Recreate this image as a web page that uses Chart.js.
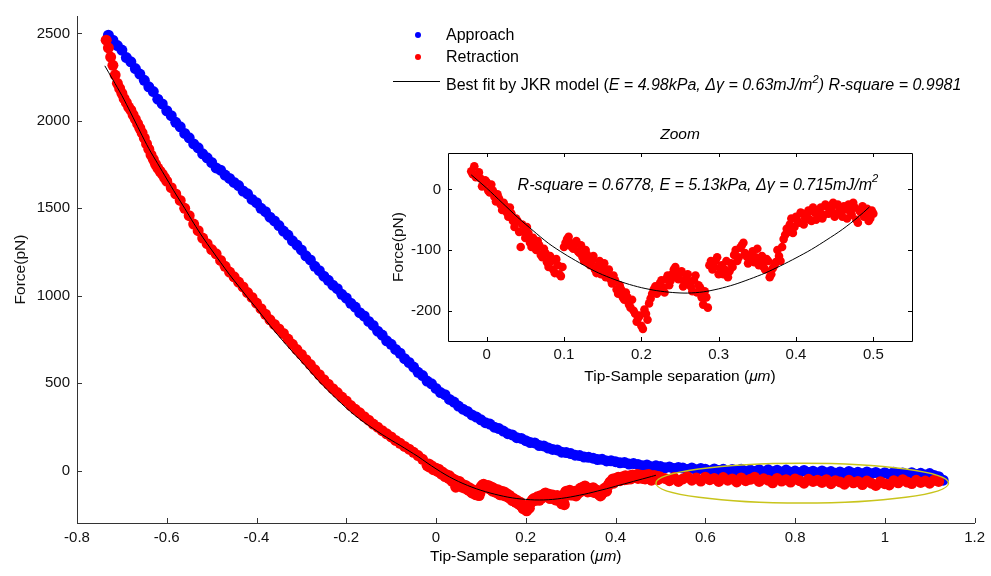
<!DOCTYPE html>
<html>
<head>
<meta charset="utf-8">
<script src="https://cdn.jsdelivr.net/npm/chart.js@4/dist/chart.umd.min.js"></script>
<style>
  html, body { margin: 0; padding: 0; background: #fff; }
  #wrap { position: relative; width: 991px; height: 576px; }
  #main { position: absolute; left: 0; top: 0; }
  #zoom { position: absolute; left: 380px; top: 118px; }
</style>
</head>
<body>
<div id="wrap">
  <canvas id="main" width="991" height="576"></canvas>
  <canvas id="zoom" width="545" height="275"></canvas>
</div>
<script>
const FONT = '"Liberation Sans", Arial, sans-serif';
const AXIS = "#333";

const mainXTicks = [-0.8, -0.6, -0.4, -0.2, 0, 0.2, 0.4, 0.6, 0.8, 1, 1.2];
const mainYTicks = [0, 500, 1000, 1500, 2000, 2500];
const zoomXTicks = [0, 0.1, 0.2, 0.3, 0.4, 0.5];
const zoomYTicks = [-200, -100, 0];

// approach curve (blue)
const approachX = [
  -0.73,-0.72,-0.71,-0.70,-0.69,-0.68,-0.67,-0.66,-0.65,-0.64,
  -0.63,-0.62,-0.61,-0.60,-0.59,-0.58,-0.57,-0.56,-0.55,-0.54,
  -0.53,-0.52,-0.51,-0.50,-0.49,-0.48,-0.47,-0.46,-0.45,-0.44,
  -0.43,-0.42,-0.41,-0.40,-0.39,-0.38,-0.37,-0.36,-0.35,-0.34,
  -0.33,-0.32,-0.31,-0.30,-0.29,-0.28,-0.27,-0.26,-0.25,-0.24,
  -0.23,-0.22,-0.21,-0.20,-0.19,-0.18,-0.17,-0.16,-0.15,-0.14,
  -0.13,-0.12,-0.11,-0.10,-0.09,-0.08,-0.07,-0.06,-0.05,-0.04,
  -0.03,-0.02,-0.01,0.00,0.01,0.02,0.03,0.04,0.05,0.06,
  0.07,0.08,0.09,0.10,0.11,0.12,0.13,0.14,0.15,0.16,
  0.17,0.18,0.19,0.20,0.21,0.22,0.23,0.24,0.25,0.26,
  0.27,0.28,0.29,0.30,0.31,0.32,0.33,0.34,0.35,0.36,
  0.37,0.38,0.39,0.40,0.41,0.42,0.43,0.44,0.45,0.46,
  0.47,0.48,0.49,0.50,0.51,0.52,0.53,0.54,0.55,0.56,
  0.57,0.58,0.59,0.60,0.61,0.62,0.63,0.64,0.65,0.66,
  0.67,0.68,0.69,0.70,0.71,0.72,0.73,0.74,0.75,0.76,
  0.77,0.78,0.79,0.80,0.81,0.82,0.83,0.84,0.85,0.86,
  0.87,0.88,0.89,0.90,0.91,0.92,0.93,0.94,0.95,0.96,
  0.97,0.98,0.99,1.00,1.01,1.02,1.03,1.04,1.05,1.06,
  1.07,1.08,1.09,1.10,1.11,1.12,1.13
];
const approachY = [
  2490,2462,2431,2405,2362,2338,2299,2268,2232,2195,
  2168,2124,2097,2058,2030,1992,1966,1928,1903,1868,
  1846,1812,1789,1762,1731,1718,1690,1671,1648,1630,
  1599,1583,1551,1532,1500,1481,1449,1428,1401,1370,
  1347,1314,1290,1262,1228,1205,1168,1143,1112,1088,
  1060,1040,1008,987,957,935,903,884,853,830,
  797,775,742,722,693,671,640,618,592,562,
  543,512,496,470,446,434,407,392,369,351,
  338,318,306,290,274,266,248,240,226,211,
  204,188,184,171,160,158,143,141,129,121,
  118,105,103,97,88,86,77,76,71,63,
  64,55,56,51,44,46,37,40,35,28,
  32,22,27,23,16,21,12,18,14,6,
  15,4,12,8,-2,9,0,7,-4,6,
  -3,8,-5,3,-6,5,-8,4,-7,2,
  -10,3,-9,-3,-12,1,-11,-4,-14,-2,
  -13,-6,-15,-8,-17,-5,-16,-10,-19,-8,
  -18,-11,-21,-12,-22,-10,-20,-14,-24,-12,
  -22,-16,-25,-17,-28,-35,-55
];

// retraction curve (red), also used for the zoom panel
const retractionX = [
  -0.735,-0.730,-0.725,-0.720,-0.715,-0.710,-0.705,-0.700,-0.695,-0.690,
  -0.685,-0.680,-0.675,-0.670,-0.665,-0.660,-0.655,-0.650,-0.645,-0.640,
  -0.635,-0.630,-0.625,-0.620,-0.615,-0.610,-0.605,-0.600,
  -0.59,-0.58,-0.57,-0.56,-0.55,-0.54,-0.53,-0.52,-0.51,-0.50,
  -0.49,-0.48,-0.47,-0.46,-0.45,-0.44,-0.43,-0.42,-0.41,-0.40,
  -0.39,-0.38,-0.37,-0.36,-0.35,-0.34,-0.33,-0.32,-0.31,-0.30,
  -0.29,-0.28,-0.27,-0.26,-0.25,-0.24,-0.23,-0.22,-0.21,-0.20,
  -0.19,-0.18,-0.17,-0.16,-0.15,-0.14,-0.13,-0.12,-0.11,-0.10,
  -0.09,-0.08,-0.07,-0.06,-0.05,-0.04,-0.03,
  -0.020,-0.016,-0.012,-0.008,-0.004,0.000,0.004,0.008,0.012,0.016,
  0.020,0.024,0.028,0.032,0.036,0.040,0.044,0.048,0.052,0.056,
  0.060,0.064,0.068,0.072,0.076,0.080,0.084,0.088,0.092,0.096,
  0.100,0.104,0.108,0.112,0.116,0.120,0.124,0.128,0.132,0.136,
  0.140,0.144,0.148,0.152,0.156,0.160,0.164,0.168,0.172,0.176,
  0.180,0.184,0.188,0.192,0.196,0.200,0.204,0.208,0.212,0.216,
  0.220,0.224,0.228,0.232,0.236,0.240,0.244,0.248,0.252,0.256,
  0.260,0.264,0.268,0.272,0.276,0.280,0.284,0.288,0.292,0.296,
  0.300,0.304,0.308,0.312,0.316,0.320,0.324,0.328,0.332,0.336,
  0.340,0.344,0.348,0.352,0.356,0.360,0.364,0.368,0.372,0.376,
  0.380,0.384,0.388,0.392,0.396,0.400,0.404,0.408,0.412,0.416,
  0.420,0.424,0.428,0.432,0.436,0.440,0.444,0.448,0.452,0.456,
  0.460,0.464,0.468,0.472,0.476,0.480,0.484,0.488,0.492,0.496,
  0.500,
  0.51,0.52,0.53,0.54,0.55,0.56,0.57,0.58,0.59,0.60,
  0.61,0.62,0.63,0.64,0.65,0.66,0.67,0.68,0.69,0.70,
  0.71,0.72,0.73,0.74,0.75,0.76,0.77,0.78,0.79,0.80,
  0.81,0.82,0.83,0.84,0.85,0.86,0.87,0.88,0.89,0.90,
  0.91,0.92,0.93,0.94,0.95,0.96,0.97,0.98,0.99,1.00,
  1.01,1.02,1.03,1.04,1.05,1.06,1.07,1.08,1.09,1.10,
  1.11,1.12
];
const retractionY = [
  2462,2418,2365,2318,2262,2215,2186,2158,2128,2104,
  2079,2061,2035,2010,1985,1958,1932,1902,1868,1838,
  1806,1780,1752,1730,1712,1695,1676,1655,
  1618,1582,1545,1500,1458,1410,1372,1330,1298,1264,
  1240,1202,1168,1135,1108,1078,1050,1018,990,958,
  926,894,862,836,810,784,752,722,692,664,
  634,606,576,548,520,494,468,446,420,398,
  372,350,330,308,288,266,248,228,210,192,
  172,156,138,122,104,86,64,
  30,38,22,18,8,12,-5,-2,-20,-15,
  -34,-28,-45,-40,-62,-52,-95,-70,-62,-88,
  -80,-100,-92,-112,-105,-128,-118,-138,-125,-143,
  -95,-82,-88,-98,-85,-105,-112,-100,-122,-118,
  -132,-126,-140,-122,-138,-148,-142,-165,-158,-178,
  -170,-190,-182,-205,-212,-225,-198,-215,-180,-165,
  -172,-155,-162,-148,-158,-140,-128,-148,-135,-152,
  -140,-160,-150,-170,-162,-190,-178,-125,-132,-118,
  -140,-125,-132,-145,-122,-108,-118,-96,-88,-110,
  -118,-102,-112,-125,-110,-132,-118,-140,-125,-100,
  -118,-82,-65,-58,-72,-45,-55,-40,-48,-35,
  -52,-38,-45,-30,-42,-28,-36,-22,-40,-30,
  -45,-33,-25,-42,-30,-55,-38,-45,-32,-48,
  -40,
  -45,-58,-40,-62,-48,-35,-55,-42,-60,-38,
  -52,-45,-62,-40,-55,-48,-65,-42,-58,-50,
  -38,-62,-47,-55,-70,-45,-60,-52,-66,-48,
  -58,-72,-50,-62,-55,-68,-52,-75,-58,-65,
  -78,-56,-70,-62,-80,-60,-72,-85,-64,-75,
  -82,-58,-70,-52,-66,-74,-56,-68,-60,-72,
  -55,-62
];

// second pass of retraction samples in the contact/adhesion region
const retraction2X = [
  -0.018,-0.014,-0.010,-0.006,-0.002,0.002,0.006,0.010,0.014,0.018,
  0.022,0.026,0.030,0.034,0.038,0.042,0.046,0.050,0.054,0.058,
  0.062,0.066,0.070,0.074,0.078,0.082,0.086,0.090,0.094,0.098,
  0.102,0.106,0.110,0.114,0.118,0.122,0.126,0.130,0.134,0.138,
  0.142,0.146,0.150,0.154,0.158,0.162,0.166,0.170,0.174,0.178,
  0.182,0.186,0.190,0.194,0.198,0.202,0.206,0.210,0.214,0.218,
  0.222,0.226,0.230,0.234,0.238,0.242,0.246,0.250,0.254,0.258,
  0.262,0.266,0.270,0.274,0.278,0.282,0.286,0.290,0.294,0.298,
  0.302,0.306,0.310,0.314,0.318,0.322,0.326,0.330,0.334,0.338,
  0.342,0.346,0.350,0.354,0.358,0.362,0.366,0.370,0.374,0.378,
  0.382,0.386,0.390,0.394,0.398,0.402,0.406,0.410,0.414,0.418,
  0.422,0.426,0.430,0.434,0.438,0.442,0.446,0.450,0.454,0.458,
  0.462,0.466,0.470,0.474,0.478,0.482,0.486,0.490,0.494,0.498
];
const retraction2Y = [
  25,20,28,5,15,-2,8,-12,-8,-25,
  -22,-38,-30,-52,-48,-70,-58,-80,-72,-95,
  -90,-85,-108,-98,-120,-110,-132,-115,-140,-128,
  -88,-78,-95,-90,-102,-92,-118,-108,-125,-110,
  -138,-118,-130,-145,-132,-155,-150,-172,-165,-182,
  -178,-195,-200,-218,-208,-230,-205,-188,-172,-160,
  -165,-150,-170,-142,-150,-132,-145,-138,-160,-145,
  -152,-168,-142,-158,-178,-168,-195,-118,-128,-112,
  -130,-140,-118,-135,-128,-100,-112,-92,-105,-122,
  -108,-120,-98,-118,-128,-115,-145,-130,-120,-110,
  -95,-75,-70,-48,-62,-52,-38,-58,-42,-50,
  -30,-50,-35,-48,-25,-40,-30,-45,-25,-38,
  -28,-48,-36,-22,-50,-35,-28,-42,-52,-35
];

// JKR fit, main panel
const fitX = [
  -0.738,-0.72,-0.70,-0.68,-0.66,-0.64,-0.62,-0.60,-0.58,-0.56,
  -0.54,-0.52,-0.50,-0.48,-0.46,-0.44,-0.42,-0.40,-0.38,-0.36,
  -0.34,-0.32,-0.30,-0.28,-0.26,-0.24,-0.22,-0.20,-0.18,-0.16,
  -0.14,-0.12,-0.10,-0.08,-0.06,-0.04,-0.02,0.00,0.02,0.04,
  0.06,0.08,0.10,0.12,0.14,0.16,0.18,0.20,0.22,0.24,
  0.26,0.28,0.30,0.32,0.34,0.36,0.38,0.40,0.42,0.44,
  0.46,0.48,0.49
];
const fitY = [
  2315,2235,2145,2045,1942,1842,1755,1668,1582,1500,
  1415,1335,1262,1190,1120,1055,990,928,862,798,
  738,680,624,566,508,456,406,358,314,275,
  240,206,174,144,112,80,44,10,-22,-50,
  -74,-95,-113,-128,-141,-152,-160,-165,-168,-168,
  -165,-159,-151,-141,-130,-117,-104,-90,-76,-62,
  -48,-34,-27
];

// JKR fit, zoom panel
const zoomFitX = [
  -0.02,0.00,0.02,0.04,0.06,0.08,0.10,0.12,0.14,0.16,
  0.18,0.20,0.22,0.24,0.26,0.28,0.30,0.32,0.34,0.36,
  0.38,0.40,0.42,0.44,0.46,0.48,0.495
];
const zoomFitY = [
  24,2,-22,-46,-68,-89,-106,-121,-135,-146,
  -155,-162,-167,-170,-171,-169,-164,-157,-148,-138,
  -126,-113,-99,-83,-66,-46,-29
];

const pairs = (xs, ys) => xs.map((x, i) => ({ x, y: ys[i] }));

function drawRuns(ctx, runs, x, y, size) {
  let cx = x;
  runs.forEach((r) => {
    const s = r.sup ? size * 0.7 : size;
    ctx.font = `${r.italic ? "italic " : ""}${s}px ${FONT}`;
    ctx.fillText(r.text, cx, r.sup ? y - size * 0.38 : y);
    cx += ctx.measureText(r.text).width;
  });
  return cx;
}

function runsWidth(ctx, runs, size) {
  let w = 0;
  runs.forEach((r) => {
    const s = r.sup ? size * 0.7 : size;
    ctx.font = `${r.italic ? "italic " : ""}${s}px ${FONT}`;
    w += ctx.measureText(r.text).width;
  });
  return w;
}

const xLabelRuns = [
  { text: "Tip-Sample separation (" },
  { text: "\u03bcm", italic: true },
  { text: ")" },
];

const inwardTicks = (len, box, color) => ({
  id: "inwardTicks",
  afterDraw(chart) {
    const { ctx, chartArea: a, scales: { x, y } } = chart;
    ctx.save();
    ctx.strokeStyle = color;
    ctx.lineWidth = 1;
    ctx.beginPath();
    x.ticks.forEach((t) => {
      const p = Math.round(x.getPixelForValue(t.value)) + 0.5;
      ctx.moveTo(p, a.bottom);
      ctx.lineTo(p, a.bottom - len);
      if (box) {
        ctx.moveTo(p, a.top);
        ctx.lineTo(p, a.top + len);
      }
    });
    y.ticks.forEach((t) => {
      const p = Math.round(y.getPixelForValue(t.value)) + 0.5;
      ctx.moveTo(a.left, p);
      ctx.lineTo(a.left + len, p);
      if (box) {
        ctx.moveTo(a.right, p);
        ctx.lineTo(a.right - len, p);
      }
    });
    if (box) {
      ctx.rect(Math.round(a.left) + 0.5, Math.round(a.top) + 0.5,
        Math.round(a.right - a.left), Math.round(a.bottom - a.top));
    }
    ctx.stroke();
    ctx.restore();
  },
});

const mainDecor = {
  id: "mainDecor",
  afterDatasetsDraw(chart) {
    const { ctx, chartArea: a, scales: { x, y } } = chart;
    ctx.save();
    // highlighted region
    const cx = x.getPixelForValue(0.816);
    const cy = y.getPixelForValue(-72);
    const rx = x.getPixelForValue(0.816 + 0.326) - cx;
    const ry = cy - y.getPixelForValue(-72 + 114);
    ctx.strokeStyle = "#c8c41c";
    ctx.lineWidth = 1.4;
    ctx.beginPath();
    ctx.ellipse(cx, cy, rx, ry, 0, 0, Math.PI * 2);
    ctx.stroke();

    // legend
    ctx.textBaseline = "middle";
    ctx.textAlign = "left";
    ctx.beginPath();
    ctx.fillStyle = "#0000ff";
    ctx.arc(418, 35, 3, 0, Math.PI * 2);
    ctx.fill();
    ctx.beginPath();
    ctx.fillStyle = "#ff0000";
    ctx.arc(418, 57, 3, 0, Math.PI * 2);
    ctx.fill();
    ctx.strokeStyle = "#000";
    ctx.lineWidth = 1;
    ctx.beginPath();
    ctx.moveTo(393, 81.5);
    ctx.lineTo(440, 81.5);
    ctx.stroke();
    ctx.fillStyle = "#000";
    drawRuns(ctx, [{ text: "Approach" }], 446, 36, 16);
    drawRuns(ctx, [{ text: "Retraction" }], 446, 58, 16);
    drawRuns(ctx, [
      { text: "Best fit by JKR model (" },
      { text: "E = 4.98kPa, \u0394\u03b3 = 0.63mJ/m", italic: true },
      { text: "2", italic: true, sup: true },
      { text: ") R-square = 0.9981", italic: true },
    ], 446, 86, 16);

    // x axis title
    const w = runsWidth(ctx, xLabelRuns, 15.5);
    drawRuns(ctx, xLabelRuns, (a.left + a.right) / 2 - w / 2, a.bottom + 34, 15.5);
    ctx.restore();
  },
};

const zoomDecor = {
  id: "zoomDecor",
  beforeDraw(chart) {
    const { ctx, chartArea: a } = chart;
    ctx.save();
    ctx.fillStyle = "#fff";
    ctx.fillRect(a.left, a.top, a.right - a.left, a.bottom - a.top);
    ctx.restore();
  },
  afterDatasetsDraw(chart) {
    const { ctx, chartArea: a, scales: { x, y } } = chart;
    ctx.save();
    ctx.fillStyle = "#000";
    ctx.textBaseline = "middle";
    ctx.textAlign = "left";
    const mid = (a.left + a.right) / 2;
    ctx.font = `italic 15.5px ${FONT}`;
    const tw = ctx.measureText("Zoom").width;
    ctx.fillText("Zoom", mid - tw / 2, a.top - 18);
    drawRuns(ctx, [
      { text: "R-square = 0.6778, E = 5.13kPa, \u0394\u03b3 = 0.715mJ/m", italic: true },
      { text: "2", italic: true, sup: true },
    ], x.getPixelForValue(0.04), y.getPixelForValue(7), 16);
    const w = runsWidth(ctx, xLabelRuns, 15.5);
    drawRuns(ctx, xLabelRuns, mid - w / 2, a.bottom + 36, 15.5);
    ctx.restore();
  },
};

const tickFont = { family: FONT, size: 15 };

const retractionAll = pairs(retractionX, retractionY).concat(pairs(retraction2X, retraction2Y));

new Chart(document.getElementById("main"), {
  type: "scatter",
  data: {
    datasets: [
      {
        label: "Approach",
        data: pairs(approachX, approachY),
        backgroundColor: "#0000ff",
        pointRadius: 5.5,
        pointBorderWidth: 0,
        order: 2,
      },
      {
        label: "Retraction",
        data: retractionAll,
        backgroundColor: "#ff0000",
        pointRadius: 5.5,
        pointBorderWidth: 0,
        order: 1,
      },
      {
        label: "Best fit by JKR model",
        data: pairs(fitX, fitY),
        showLine: true,
        borderColor: "#000",
        borderWidth: 1,
        pointRadius: 0,
        tension: 0.3,
        order: 0,
      },
    ],
  },
  options: {
    responsive: false,
    animation: false,
    layout: { padding: { top: 10, right: 12, left: 0, bottom: 0 } },
    plugins: { legend: { display: false }, tooltip: { enabled: false } },
    scales: {
      x: {
        type: "linear",
        min: -0.8,
        max: 1.2,
        afterBuildTicks: (s) => { s.ticks = mainXTicks.map((v) => ({ value: v })); },
        afterFit: (s) => { s.height = 53; },
        grid: { display: false, drawTicks: false },
        border: { display: true, color: AXIS, width: 1 },
        ticks: { padding: 6, color: "#111", font: tickFont, maxRotation: 0, callback: (v) => String(v) },
      },
      y: {
        type: "linear",
        min: -300,
        max: 2600,
        afterBuildTicks: (s) => { s.ticks = mainYTicks.map((v) => ({ value: v })); },
        afterFit: (s) => { s.width = 77; },
        grid: { display: false, drawTicks: false },
        border: { display: true, color: AXIS, width: 1 },
        ticks: { padding: 7, color: "#111", font: tickFont, callback: (v) => String(v) },
        title: {
          display: true,
          text: "Force(pN)",
          color: "#111",
          font: { family: FONT, size: 15.5 },
          padding: { top: 11, bottom: 0 },
        },
      },
    },
  },
  plugins: [inwardTicks(5, false, AXIS), mainDecor],
});

const zoomData = retractionAll.filter((p) => p.x >= -0.021 && p.x <= 0.5);

new Chart(document.getElementById("zoom"), {
  type: "scatter",
  data: {
    datasets: [
      {
        label: "Retraction",
        data: zoomData,
        backgroundColor: "#ff0000",
        pointRadius: 4.3,
        pointBorderWidth: 0,
        clip: 0,
        order: 1,
      },
      {
        label: "Fit",
        data: pairs(zoomFitX, zoomFitY),
        showLine: true,
        borderColor: "#000",
        borderWidth: 1,
        pointRadius: 0,
        tension: 0.3,
        clip: 0,
        order: 0,
      },
    ],
  },
  options: {
    responsive: false,
    animation: false,
    layout: { padding: { top: 35, right: 13, left: 0, bottom: 0 } },
    plugins: { legend: { display: false }, tooltip: { enabled: false } },
    scales: {
      x: {
        type: "linear",
        min: -0.05,
        max: 0.55,
        afterBuildTicks: (s) => { s.ticks = zoomXTicks.map((v) => ({ value: v })); },
        afterFit: (s) => { s.height = 52; },
        grid: { display: false, drawTicks: false },
        border: { display: false },
        ticks: { padding: 5, color: "#111", font: tickFont, maxRotation: 0, callback: (v) => String(v) },
      },
      y: {
        type: "linear",
        min: -250,
        max: 60,
        afterBuildTicks: (s) => { s.ticks = zoomYTicks.map((v) => ({ value: v })); },
        afterFit: (s) => { s.width = 68; },
        grid: { display: false, drawTicks: false },
        border: { display: false },
        ticks: { padding: 7, color: "#111", font: tickFont, callback: (v) => String(v) },
        title: {
          display: true,
          text: "Force(pN)",
          color: "#111",
          font: { family: FONT, size: 15.5 },
          padding: { top: 9, bottom: 0 },
        },
      },
    },
  },
  plugins: [zoomDecor, inwardTicks(4, true, "#000")],
});
</script>
</body>
</html>
